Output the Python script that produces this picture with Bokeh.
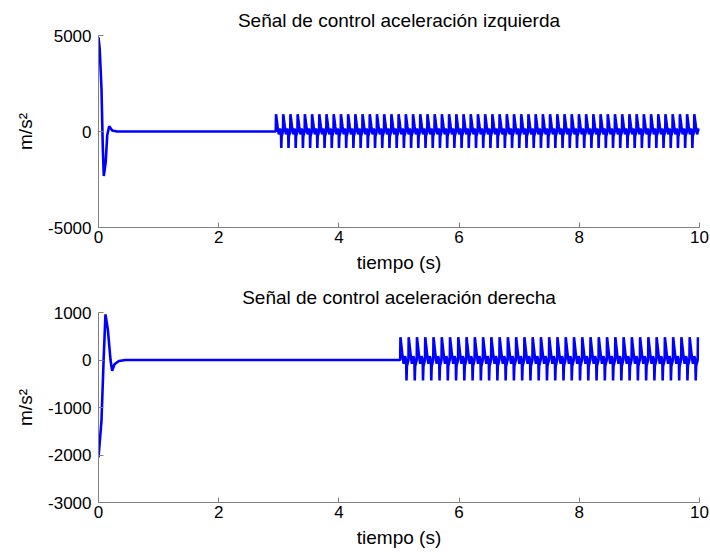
import numpy as np
from bokeh.plotting import figure
from bokeh.layouts import column
from bokeh.models import Range1d, FixedTicker
from bokeh.embed import file_html
from bokeh.resources import INLINE

# ---------------- data ----------------
TITLE_TOP = "Señal de control aceleración izquierda"
TITLE_BOT = "Señal de control aceleración derecha"
X_LABEL = "tiempo (s)"
Y_LABEL = "m/s²"
X_TICKS = [0, 2, 4, 6, 8, 10]
X_TICK_LABELS = ["0", "2", "4", "6", "8", "10"]
TOP_Y_TICKS = [-5000, 0, 5000]
TOP_Y_TICK_LABELS = ["-5000", "0", "5000"]
BOT_Y_TICKS = [-3000, -2000, -1000, 0, 1000]
BOT_Y_TICK_LABELS = ["-3000", "-2000", "-1000", "0", "1000"]

# left signal: start-up transient (time s, value m/s^2)
TOP_TRANS_T = [0.0, 0.02, 0.05, 0.072, 0.088, 0.12, 0.145, 0.178, 0.228, 0.31, 2.95]
TOP_TRANS_V = [4900, 4300, 2200, -900, -2320, -1590, -200, 275, 50, 0, 0]
# left signal: one period of the limit cycle (fraction of period, value)
TOP_CYCLE_PHASE = [0.0, 0.03, 0.25, 0.42, 0.58, 0.72, 0.76, 0.81, 1.0]
TOP_CYCLE_VALUE = [0, 900, 250, -150, 150, 0, -860, -250, 0]
TOP_OSC_START = 2.95
TOP_OSC_PERIOD = 0.12
TOP_OSC_END = 10.0

# right signal: start-up transient
BOT_TRANS_T = [0.0, 0.05, 0.085, 0.116, 0.155, 0.2, 0.227, 0.266, 0.34, 0.45, 5.02]
BOT_TRANS_V = [-2050, -1270, 0, 960, 650, 0, -230, -90, -20, 0, 0]
# right signal: one period of the limit cycle
BOT_CYCLE_PHASE = [0.0, 0.03, 0.25, 0.42, 0.58, 0.72, 0.76, 0.81, 1.0]
BOT_CYCLE_VALUE = [0, 480, 130, -80, 80, 0, -430, -130, 0]
BOT_OSC_START = 5.02
BOT_OSC_PERIOD = 0.1375
BOT_OSC_END = 10.0


def build(trans_t, trans_v, ph, val, start, period, end):
    t = list(trans_t)
    v = list(trans_v)
    k = 0
    while True:
        base = start + k * period
        if base >= end:
            break
        for p, y in zip(ph[1:], val[1:]):
            tt = base + p * period
            if tt > end:
                break
            t.append(tt)
            v.append(y)
        k += 1
    return t, v


FONT = "Liberation Sans"
BLUE = "#0000ff"
AXIS_GRAY = "#808080"


def make_fig(title, height, y_range, y_ticks, y_tick_labels, top_border, bottom_border,
             t, v, title_standoff):
    p = figure(width=710, height=height, output_backend="svg", toolbar_location=None,
               x_range=Range1d(0, 10), y_range=y_range,
               min_border_left=98, min_border_right=11, min_border_top=top_border,
               min_border_bottom=bottom_border)
    p.title.text = title
    p.title.align = "center"
    p.title.vertical_align = "top"
    p.title.text_font = FONT
    p.title.text_font_size = "19px"
    p.title.text_font_style = "normal"
    p.title.text_color = "black"
    p.title.standoff = title_standoff
    p.outline_line_color = None
    p.grid.visible = False
    p.line(t, v, line_color=BLUE, line_width=2.6)
    for ax in (p.xaxis[0], p.yaxis[0]):
        ax.major_tick_in = 5
        ax.major_tick_out = 0
        ax.minor_tick_line_color = None
        ax.axis_line_color = AXIS_GRAY
        ax.major_tick_line_color = AXIS_GRAY
        ax.major_label_text_font = FONT
        ax.major_label_text_font_size = "17px"
        ax.major_label_text_color = "black"
        ax.axis_label_text_font = FONT
        ax.axis_label_text_font_size = "19px"
        ax.axis_label_text_font_style = "normal"
        ax.axis_label_text_color = "black"
    p.xaxis[0].ticker = FixedTicker(ticks=X_TICKS)
    p.xaxis[0].major_label_overrides = dict(zip(X_TICKS, X_TICK_LABELS))
    p.yaxis[0].ticker = FixedTicker(ticks=y_ticks)
    p.yaxis[0].major_label_overrides = dict(zip(y_ticks, y_tick_labels))
    p.xaxis[0].axis_label = X_LABEL
    p.yaxis[0].axis_label = Y_LABEL
    p.xaxis[0].major_label_standoff = 3
    p.xaxis[0].axis_label_standoff = 6
    p.yaxis[0].major_label_standoff = 7
    p.yaxis[0].axis_label_standoff = 9
    return p


tt, tv = build(TOP_TRANS_T, TOP_TRANS_V, TOP_CYCLE_PHASE, TOP_CYCLE_VALUE,
               TOP_OSC_START, TOP_OSC_PERIOD, TOP_OSC_END)
bt, bv = build(BOT_TRANS_T, BOT_TRANS_V, BOT_CYCLE_PHASE, BOT_CYCLE_VALUE,
               BOT_OSC_START, BOT_OSC_PERIOD, BOT_OSC_END)

p1 = make_fig(TITLE_TOP, 276, Range1d(-5000, 5000), TOP_Y_TICKS, TOP_Y_TICK_LABELS,
              35, 49, tt, tv, 5)
p2 = make_fig(TITLE_BOT, 282, Range1d(-3000, 1000), BOT_Y_TICKS, BOT_Y_TICK_LABELS,
              36, 56, bt, bv, 5)

layout = column(p1, p2, spacing=0)
open("out.html", "w").write(file_html(layout, INLINE))
